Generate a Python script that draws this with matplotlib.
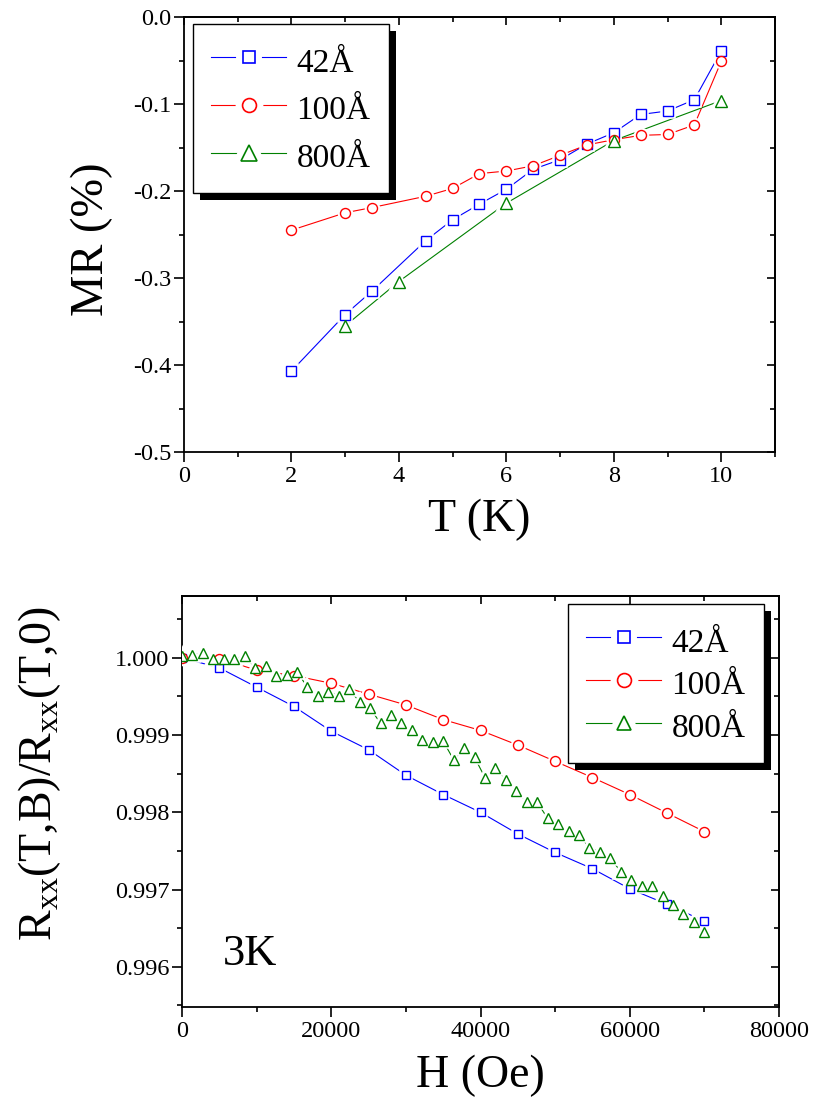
import matplotlib
matplotlib.use('Agg')
import matplotlib.pyplot as plt
from matplotlib.lines import Line2D
from matplotlib.legend_handler import HandlerTuple
from matplotlib.patches import Rectangle
from matplotlib.ticker import MultipleLocator, FormatStrFormatter

plt.rcParams['font.family'] = ['Liberation Serif', 'DejaVu Serif']
plt.rcParams['mathtext.fontset'] = 'custom'
plt.rcParams['mathtext.rm'] = 'Liberation Serif'
plt.rcParams['axes.unicode_minus'] = False

labels = ['42Å', '100Å', '800Å']
colors = ['#0000ff', '#ff0000', '#008000']
markers = ['s', 'o', '^']

# top panel: MR (%) vs T (K)
t_42 = [2, 3, 3.5, 4.5, 5, 5.5, 6, 6.5, 7, 7.5, 8, 8.5, 9, 9.5, 10]
mr_42 = [-0.407, -0.342, -0.315, -0.257, -0.233, -0.215, -0.198, -0.175,
         -0.164, -0.146, -0.133, -0.112, -0.108, -0.095, -0.039]
t_100 = [2, 3, 3.5, 4.5, 5, 5.5, 6, 6.5, 7, 7.5, 8, 8.5, 9, 9.5, 10]
mr_100 = [-0.245, -0.225, -0.219, -0.206, -0.197, -0.180, -0.177, -0.171,
          -0.159, -0.147, -0.141, -0.136, -0.135, -0.124, -0.051]
t_800 = [3, 4, 6, 8, 10]
mr_800 = [-0.355, -0.304, -0.214, -0.142, -0.096]

# bottom panel: R(T,B)/R(T,0) vs H (Oe) at 3K
h_42 = [0, 5000, 10000, 15000, 20000, 25000, 30000, 35000, 40000, 45000,
        50000, 55000, 60000, 65000, 70000]
r_42 = [1.00000, 0.99987, 0.99962, 0.99937, 0.99905, 0.99881, 0.99848, 0.99823,
        0.99800, 0.99772, 0.99748, 0.99727, 0.99701, 0.99681, 0.99659]
h_100 = [0, 5000, 10000, 15000, 20000, 25000, 30000, 35000, 40000, 45000,
         50000, 55000, 60000, 65000, 70000]
r_100 = [1.00000, 0.99999, 0.99984, 0.99977, 0.99967, 0.99953, 0.99939, 0.99920,
         0.99906, 0.99887, 0.99866, 0.99845, 0.99823, 0.99799, 0.99775]
h_800 = [0, 1400, 2800, 4200, 5600, 7000, 8400, 9800, 11200, 12600, 14000,
         15400, 16800, 18200, 19600, 21000, 22400, 23800, 25200, 26600, 28000,
         29400, 30800, 32200, 33600, 35000, 36400, 37800, 39200, 40600, 42000,
         43400, 44800, 46200, 47600, 49000, 50400, 51800, 53200, 54600, 56000,
         57400, 58800, 60200, 61600, 63000, 64400, 65800, 67200, 68600, 70000]
r_800 = [1.00002, 1.00004, 1.00006, 0.99999, 0.99998, 0.99999, 1.00002, 0.99987,
         0.99990, 0.99977, 0.99978, 0.99982, 0.99962, 0.99951, 0.99956, 0.99951,
         0.99959, 0.99943, 0.99935, 0.99915, 0.99926, 0.99915, 0.99907, 0.99893,
         0.99891, 0.99892, 0.99868, 0.99883, 0.99871, 0.99845, 0.99858, 0.99842,
         0.99828, 0.99813, 0.99813, 0.99792, 0.99785, 0.99776, 0.99771, 0.99754,
         0.99749, 0.99741, 0.99723, 0.99712, 0.99705, 0.99704, 0.99692, 0.99680,
         0.99668, 0.99658, 0.99645]


def draw_series(ax, x, y, color, marker, ms):
    ax.plot(x, y, color=color, lw=0.8, zorder=2)
    # white halo leaves a small gap between line and symbol
    ax.plot(x, y, ls='none', marker=marker, ms=ms, mfc='white', mec='white',
            mew=4, zorder=3)
    ax.plot(x, y, ls='none', marker=marker, ms=ms, mfc='white', mec=color,
            mew=1.0, zorder=4)


def style_axes(ax, xmaj, xmin, ymaj, ymin, yfmt):
    ax.xaxis.set_major_locator(MultipleLocator(xmaj))
    ax.xaxis.set_minor_locator(MultipleLocator(xmin))
    ax.yaxis.set_major_locator(MultipleLocator(ymaj))
    ax.yaxis.set_minor_locator(MultipleLocator(ymin))
    ax.yaxis.set_major_formatter(FormatStrFormatter(yfmt))
    ax.tick_params(which='both', direction='out', labelsize=17.5, width=1.2)
    ax.tick_params(axis='x', pad=3)
    ax.tick_params(axis='y', pad=2)
    ax.tick_params(which='major', length=7)
    ax.tick_params(which='minor', length=3.6)
    for sp in ax.spines.values():
        sp.set_linewidth(1.3)
    top = ax.secondary_xaxis('top')
    top.xaxis.set_major_locator(MultipleLocator(xmaj))
    top.xaxis.set_minor_locator(MultipleLocator(xmin))
    top.tick_params(which='both', direction='in', labeltop=False, width=1.2)
    top.tick_params(which='major', length=6)
    top.tick_params(which='minor', length=3.6)
    top.spines['top'].set_linewidth(1.3)
    right = ax.secondary_yaxis('right')
    right.yaxis.set_major_locator(MultipleLocator(ymaj))
    right.yaxis.set_minor_locator(MultipleLocator(ymin))
    right.tick_params(which='both', direction='in', labelright=False, width=1.2)
    right.tick_params(which='major', length=6)
    right.tick_params(which='minor', length=3.6)
    right.spines['right'].set_linewidth(1.3)


def add_legend(ax, anchor, ms_list, spacing):
    handles = []
    for c, m, ms in zip(colors, markers, ms_list):
        line = Line2D([], [], color=c, lw=0.8)
        halo = Line2D([], [], ls='none', marker=m, ms=ms, mfc='white',
                      mec='white', mew=10)
        mk = Line2D([], [], ls='none', marker=m, ms=ms, mfc='white', mec=c,
                    mew=1.2)
        handles.append((line, halo, mk))
    leg = ax.legend(handles, labels, handler_map={tuple: HandlerTuple(ndivide=1)},
                    loc='upper left', bbox_to_anchor=anchor, borderaxespad=0,
                    fancybox=False, edgecolor='black', framealpha=1,
                    fontsize=24, handlelength=2.25, handletextpad=0.3,
                    handleheight=1.29, labelspacing=spacing, borderpad=0.55)
    leg.get_frame().set_linewidth(1.0)
    leg.set_zorder(6)
    return leg


fig = plt.figure(figsize=(8.13, 10.99), dpi=100)
ax1 = fig.add_axes([0.2263, 0.5887, 0.7269, 0.3958])
ax2 = fig.add_axes([0.2239, 0.0837, 0.7343, 0.3740])

for x, y, c, m, ms in zip([t_42, t_100, t_800], [mr_42, mr_100, mr_800],
                          colors, markers, [6.8, 7.2, 9.0]):
    draw_series(ax1, x, y, c, m, ms)
ax1.set_xlim(0, 11)
ax1.set_ylim(-0.5, 0.0)
style_axes(ax1, 2, 1, 0.1, 0.05, '%.1f')
leg1 = add_legend(ax1, (0.0152, 0.984), [8, 10, 11], 0.35)

for x, y, c, m, ms in zip([h_42, h_100, h_800], [r_42, r_100, r_800],
                          colors, markers, [6.0, 7.2, 7.7]):
    draw_series(ax2, x, y, c, m, ms)
ax2.set_xlim(0, 80000)
ax2.set_ylim(0.99548, 1.00080)
style_axes(ax2, 20000, 10000, 0.001, 0.0005, '%.3f')
leg2 = add_legend(ax2, (0.6466, 0.9805), [8, 10, 10], 0.2)
ax2.text(0.0687, 0.102, '3K', transform=ax2.transAxes, fontsize=32,
         ha='left', va='baseline')

fig.text(0.1132, 0.7825, 'MR (%)', rotation=90, ha='center', va='center',
         fontsize=33.5)
fig.text(479.5 / 813, 1 - 520 / 1099, 'T (K)', ha='center', va='center',
         fontsize=33)
fig.text(40 / 813, 1 - 773 / 1099, r'R$_\mathregular{xx}$(T,B)/R$_\mathregular{xx}$(T,0)',
         rotation=90, ha='center', va='center', fontsize=33)
fig.text(480 / 813, 1 - 1076 / 1099, 'H (Oe)', ha='center', va='center',
         fontsize=33)

# black drop shadow behind each legend box
fig.canvas.draw()
for ax, leg in [(ax1, leg1), (ax2, leg2)]:
    bb = leg.get_window_extent()
    inv = ax.transAxes.inverted()
    (x0, y0), (x1, y1) = inv.transform([(bb.x0 + 7, bb.y0 - 7), (bb.x1 + 7, bb.y1 - 7)])
    ax.add_patch(Rectangle((x0, y0), x1 - x0, y1 - y0, transform=ax.transAxes,
                           facecolor='black', edgecolor='none', zorder=5.5,
                           clip_on=False))

fig.savefig('out.png', dpi=100)
